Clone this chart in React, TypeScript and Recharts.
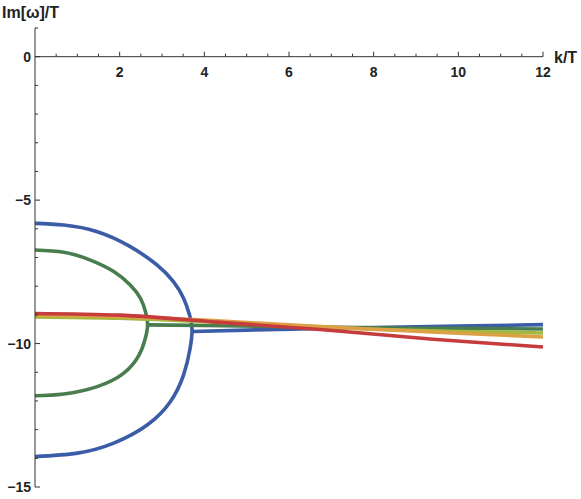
import { Line, LineChart, ReferenceLine, XAxis, YAxis } from 'recharts'

// k/T, Im[w]/T
const blueArc = [
  { k: 0, w: -5.81 },
  { k: 0.68, w: -5.87 },
  { k: 1.47, w: -6.1 },
  { k: 2.25, w: -6.62 },
  { k: 2.88, w: -7.26 },
  { k: 3.27, w: -7.84 },
  { k: 3.51, w: -8.42 },
  { k: 3.65, w: -9.0 },
  { k: 3.71, w: -9.5 },
  { k: 3.66, w: -10.2 },
  { k: 3.51, w: -11.09 },
  { k: 3.2, w: -12.02 },
  { k: 2.65, w: -12.84 },
  { k: 1.86, w: -13.47 },
  { k: 1.0, w: -13.82 },
  { k: 0, w: -13.94 },
]
const greenArc = [
  { k: 0, w: -6.74 },
  { k: 0.68, w: -6.82 },
  { k: 1.31, w: -7.09 },
  { k: 1.86, w: -7.49 },
  { k: 2.25, w: -7.96 },
  { k: 2.49, w: -8.42 },
  { k: 2.61, w: -8.89 },
  { k: 2.66, w: -9.35 },
  { k: 2.6, w: -9.85 },
  { k: 2.45, w: -10.42 },
  { k: 2.09, w: -11.04 },
  { k: 1.47, w: -11.5 },
  { k: 0.68, w: -11.76 },
  { k: 0, w: -11.82 },
]
const blueBranch = [
  { k: 3.72, w: -9.58 },
  { k: 5, w: -9.53 },
  { k: 6.26, w: -9.49 },
  { k: 8, w: -9.44 },
  { k: 10, w: -9.39 },
  { k: 12, w: -9.34 },
]
const greenBranch = [
  { k: 2.66, w: -9.35 },
  { k: 4, w: -9.37 },
  { k: 6, w: -9.41 },
  { k: 8, w: -9.45 },
  { k: 10, w: -9.47 },
  { k: 12, w: -9.49 },
]
const oliveCurve = [
  { k: 0, w: -9.07 },
  { k: 2, w: -9.12 },
  { k: 4, w: -9.24 },
  { k: 6, w: -9.38 },
  { k: 8, w: -9.5 },
  { k: 10, w: -9.58 },
  { k: 12, w: -9.63 },
]
const orangeCurve = [
  { k: 0, w: -9.0 },
  { k: 2, w: -9.06 },
  { k: 4, w: -9.18 },
  { k: 6, w: -9.35 },
  { k: 8, w: -9.5 },
  { k: 10, w: -9.64 },
  { k: 12, w: -9.77 },
]
const redCurve = [
  { k: 0, w: -8.95 },
  { k: 2, w: -9.01 },
  { k: 4.37, w: -9.26 },
  { k: 6.73, w: -9.51 },
  { k: 9.4, w: -9.85 },
  { k: 12, w: -10.12 },
]

const kTicks = [
  0.5, 1, 1.5, 2, 2.5, 3, 3.5, 4, 4.5, 5, 5.5, 6, 6.5, 7, 7.5, 8, 8.5, 9, 9.5, 10, 10.5,
  11, 11.5, 12,
]
const wTicks = [1, 0, -1, -2, -3, -4, -5, -6, -7, -8, -9, -10, -11, -12, -13, -14, -15]

const W = 581
const H = 499
const margin = { top: 28, right: 38, bottom: 11, left: 0 }
const axisX = 35
const yMin = -15
const yMax = 1
const zeroY = margin.top + ((yMax - 0) / (yMax - yMin)) * (H - margin.top - margin.bottom - 1)
const axisColor = '#333'
const font = '"Liberation Sans", Arial, sans-serif'

function KTick({ x, payload }: any) {
  const v = payload.value
  const major = v % 2 === 0
  return (
    <g>
      <line x1={x} x2={x} y1={zeroY} y2={zeroY - (major ? 5 : 3)} stroke={axisColor} />
      {major && (
        <text x={x} y={zeroY + 20} textAnchor="middle" fontFamily={font} fontWeight="bold" fontSize={14} fill="#222">
          {v}
        </text>
      )}
    </g>
  )
}

function WTick({ y, payload }: any) {
  const v = payload.value
  const major = v % 5 === 0
  return (
    <g>
      <line x1={axisX} x2={axisX + (major ? 5 : 3)} y1={y} y2={y} stroke={axisColor} />
      {major && (
        <text x={31} y={y + 5} textAnchor="end" fontFamily={font} fontWeight="bold" fontSize={14} fill="#222">
          {v < 0 ? `\u2212${-v}` : v}
        </text>
      )}
    </g>
  )
}

const line = (data: any[], color: string, curve: any) => (
  <Line
    data={data}
    dataKey="w"
    type={curve}
    stroke={color}
    strokeWidth={3.6}
    dot={false}
    activeDot={false}
    isAnimationActive={false}
  />
)

export default function App() {
  return (
    <div style={{ position: 'absolute', left: 0, top: 0, width: W, height: H, background: '#fff' }}>
      <LineChart width={W} height={H} margin={margin}>
        <XAxis
          dataKey="k"
          type="number"
          domain={[0, 12]}
          ticks={kTicks}
          interval={0}
          height={1}
          axisLine={false}
          tickLine={false}
          tick={<KTick />}
        />
        <YAxis
          type="number"
          domain={[yMin, yMax]}
          ticks={wTicks}
          interval={0}
          width={axisX}
          axisLine={{ stroke: axisColor }}
          tickLine={false}
          tick={<WTick />}
        />
        <ReferenceLine y={0} stroke={axisColor} />
        {line(blueArc, '#3b5ca6', 'natural')}
        {line(blueBranch, '#3b5ca6', 'monotone')}
        {line(greenArc, '#4a7d4e', 'natural')}
        {line(greenBranch, '#4a7d4e', 'monotone')}
        {line(oliveCurve, '#a3b83c', 'monotone')}
        {line(orangeCurve, '#dda045', 'monotone')}
        {line(redCurve, '#c63b3b', 'monotone')}
      </LineChart>
      <svg width={W} height={H} style={{ position: 'absolute', left: 0, top: 0, pointerEvents: 'none' }}>
        <text x={2} y={18} fontFamily={font} fontWeight="bold" fontSize={16} fill="#222">
          Im[ω]/T
        </text>
        <text x={554} y={63} fontFamily={font} fontWeight="bold" fontSize={16} fill="#222">
          k/T
        </text>
      </svg>
    </div>
  )
}
